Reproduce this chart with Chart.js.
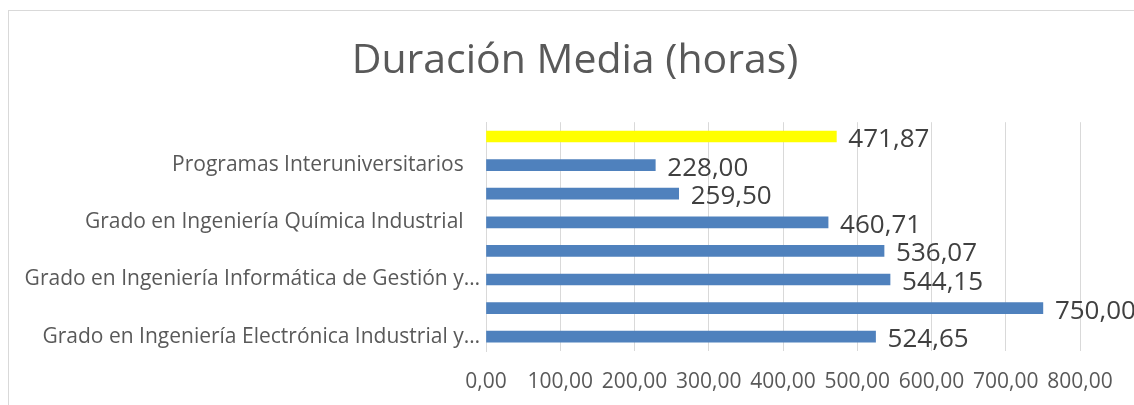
<!DOCTYPE html>
<html>
<head>
<meta charset="utf-8">
<script src="https://cdn.jsdelivr.net/npm/chart.js@4"></script>
<style>
  html, body { margin: 0; padding: 0; background: #ffffff; }
  #wrap { position: relative; width: 1134px; height: 405px; }
  #frame { position: absolute; left: 8px; top: 10px; width: 1140px; height: 400px;
           border-left: 1px solid #d9d9d9; border-top: 1px solid #d9d9d9; }
  canvas { position: absolute; left: 0; top: 0; }
</style>
</head>
<body>
<div id="wrap">
  <div id="frame"></div>
  <canvas id="barChart" width="1134" height="405"></canvas>
</div>
<script>
// categories top to bottom (unlabelled rows are hidden in the original)
const categories = [
    '',
    'Programas Interuniversitarios   ',
    '',
    'Grado en Ingeniería Química Industrial   ',
    '',
    'Grado en Ingeniería Informática de Gestión y…',
    '',
    'Grado en Ingeniería Electrónica Industrial y…'
];
const durations = [471.87, 228.00, 259.50, 460.71, 536.07, 544.15, 750.00, 524.65];
const barColors = ['#ffff00', '#4f81bd', '#4f81bd', '#4f81bd', '#4f81bd', '#4f81bd', '#4f81bd', '#4f81bd'];
const xTicks = [0, 100, 200, 300, 400, 500, 600, 700, 800];

const fmt = v => v.toFixed(2).replace('.', ',');

// draw value labels at the end of each bar
const valueLabels = {
    id: 'valueLabels',
    afterLayout(chart) {
        // centre the title over the whole frame, not just the padded area
        if (chart.titleBlock) {
            chart.titleBlock.left = 0;
            chart.titleBlock.right = 1150;
        }
    },
    afterDatasetsDraw(chart) {
        const ctx = chart.ctx;
        const meta = chart.getDatasetMeta(0);
        ctx.save();
        ctx.font = '26px "Open Sans"';
        ctx.fillStyle = '#404040';
        ctx.textAlign = 'left';
        ctx.textBaseline = 'middle';
        meta.data.forEach((bar, i) => {
            ctx.fillText(fmt(durations[i]), bar.x + 12, bar.y + 3);
        });
        ctx.restore();
    }
};

const ctx = document.getElementById('barChart').getContext('2d');
const chart = new Chart(ctx, {
    type: 'bar',
    data: {
        labels: categories,
        datasets: [{
            data: durations,
            backgroundColor: barColors,
            barThickness: 11
        }]
    },
    plugins: [valueLabels],
    options: {
        indexAxis: 'y',
        responsive: false,
        animation: false,
        layout: { padding: { left: 0, right: 54, top: 0, bottom: 0 } },
        plugins: {
            legend: { display: false },
            tooltip: { enabled: false },
            title: {
                display: true,
                text: 'Duración Media (horas)',
                color: '#595959',
                font: { family: 'Open Sans', size: 41, weight: 'normal' },
                padding: { top: 37, bottom: 36 }
            }
        },
        scales: {
            x: {
                min: 0,
                max: 800,
                afterBuildTicks: s => { s.ticks = xTicks.map(v => ({ value: v })); },
                afterFit: s => { s.height = 54; },
                grid: { color: '#d9d9d9', drawTicks: false },
                border: { display: false },
                ticks: {
                    padding: 18,
                    color: '#595959',
                    font: { family: 'Open Sans', size: 21 },
                    callback: v => fmt(v)
                }
            },
            y: {
                afterFit: s => { s.width = 486; },
                grid: { display: false, drawTicks: false },
                border: { display: true, color: '#d9d9d9' },
                ticks: {
                    autoSkip: false,
                    padding: 6,
                    color: '#595959',
                    font: { family: 'Open Sans', size: 21 }
                }
            }
        }
    }
});
</script>
</body>
</html>
